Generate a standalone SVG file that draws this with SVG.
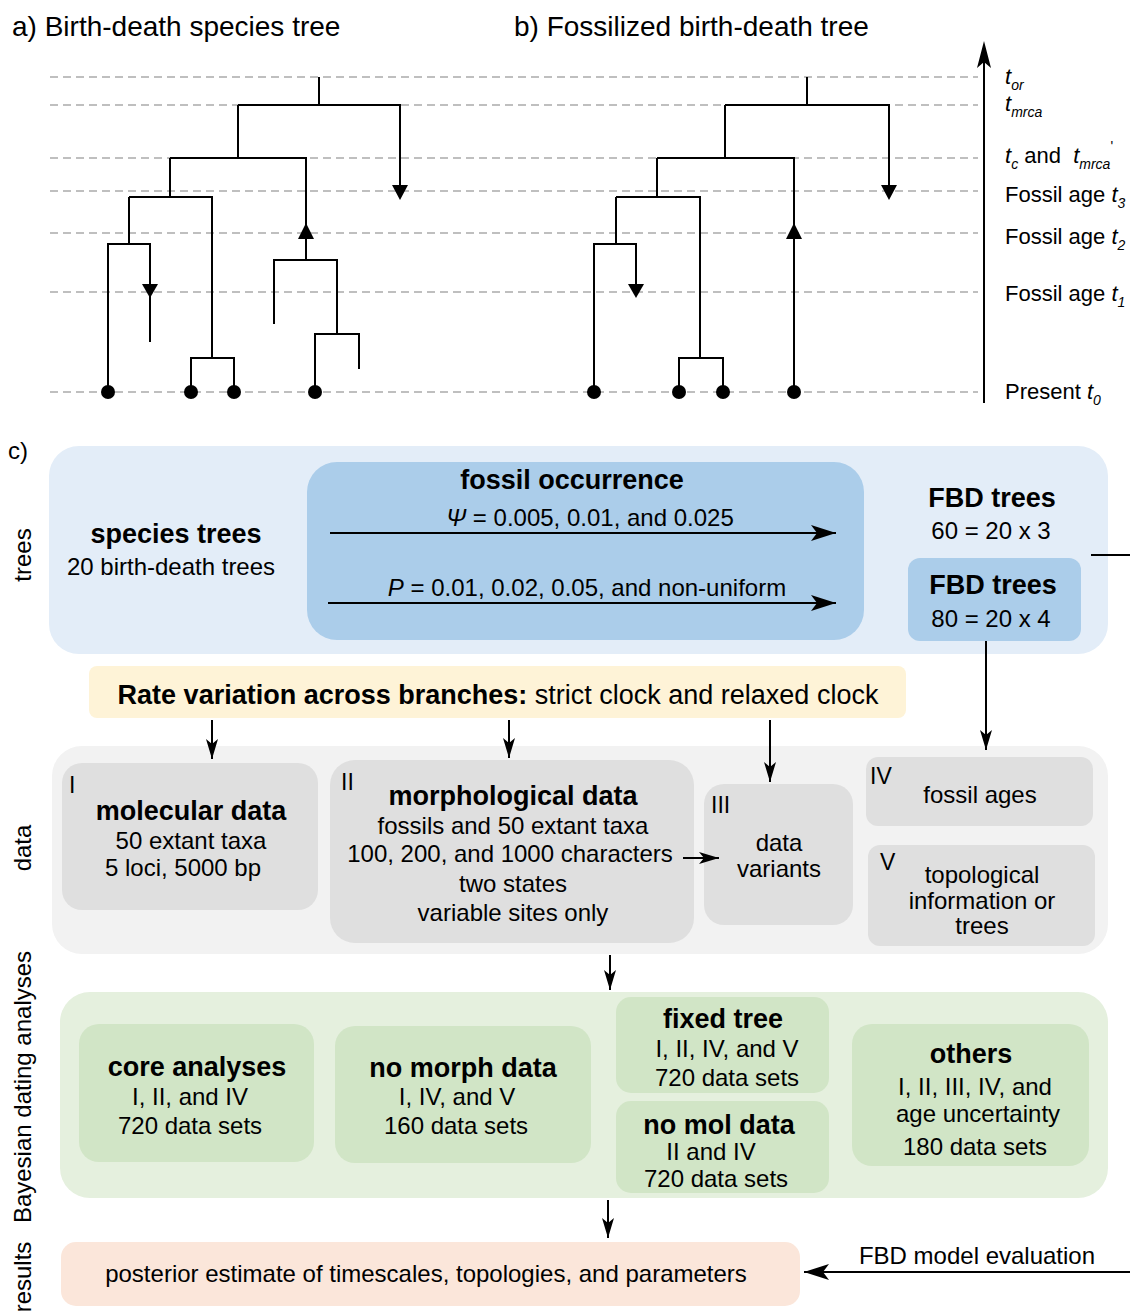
<svg xmlns="http://www.w3.org/2000/svg" width="1130" height="1311" viewBox="0 0 1130 1311">
<style>
text{font-family:"Liberation Sans",Arial,sans-serif;fill:#000}
.ttl{font-size:28px}
.lb{font-size:22px}
.sub{font-size:14px;font-style:italic}
.it{font-style:italic}
.b{font-size:27px;font-weight:bold;text-anchor:middle}
.t{font-size:24px;text-anchor:middle}
.n{font-size:23px}
.rot{font-size:24px;text-anchor:middle}
.dash{stroke:#ababab;stroke-width:1.5;stroke-dasharray:8 5;fill:none}
.br{stroke:#000;stroke-width:2;fill:none}
.con{stroke:#000;stroke-width:2;fill:none}
</style>
<defs>
<marker id="ahL" viewBox="0 0 25 16" refX="25" refY="8" markerWidth="25" markerHeight="16" markerUnits="userSpaceOnUse" orient="auto"><path d="M0,0 L25,8 L0,16 L6,8 Z" fill="#000"/></marker>
<marker id="ah" viewBox="0 0 20 12" refX="20" refY="6" markerWidth="20" markerHeight="12" markerUnits="userSpaceOnUse" orient="auto"><path d="M0,0 L20,6 L0,12 L5,6 Z" fill="#000"/></marker>
</defs>

<!-- titles -->
<text class="ttl" x="12" y="36">a) Birth-death species tree</text>
<text class="ttl" x="514" y="36">b) Fossilized birth-death tree</text>

<!-- dashed time lines -->
<g id="timelines">
<path class="dash" d="M50,77H978M50,105H978M50,158H978M50,191H978M50,233H978M50,292H978M50,392H978"/>
</g>

<!-- tree a -->
<g id="tree-a">
<path class="br" d="M319,77V105M238,105H400V186M238,105V158M170,158H306V260M274,324V260H337V334M315,392V334H359V369M170,158V197M129,197H212V358M191,392V358H234V392M129,197V244M108,392V244H150V342"/>
<polygon points="392,185 408,185 400,200"/>
<polygon points="298,239 314,239 306,223"/>
<polygon points="142,284 158,284 150,298"/>
<circle cx="108" cy="392" r="7"/><circle cx="191" cy="392" r="7"/><circle cx="234" cy="392" r="7"/><circle cx="315" cy="392" r="7"/>
</g>

<!-- tree b -->
<g id="tree-b">
<path class="br" d="M807,77V105M725,105H889V186M725,105V158M657,158H794V392M657,158V197M616,197H700V358M679,392V358H723V392M616,197V244M594,392V244H636V286"/>
<polygon points="881,185 897,185 889,200"/>
<polygon points="786,239 802,239 794,223"/>
<polygon points="628,284 644,284 636,298"/>
<circle cx="594" cy="392" r="7"/><circle cx="679" cy="392" r="7"/><circle cx="723" cy="392" r="7"/><circle cx="794" cy="392" r="7"/>
</g>

<!-- time axis -->
<g id="axis">
<path class="br" d="M984,403V50"/>
<path d="M984,41 L977,68 L984,62 L991,68 Z" fill="#000"/>
<text class="lb" x="1005" y="84"><tspan class="it">t</tspan><tspan class="sub" dy="6">or</tspan></text>
<text class="lb" x="1005" y="111"><tspan class="it">t</tspan><tspan class="sub" dy="6">mrca</tspan></text>
<text class="lb" x="1005" y="163"><tspan class="it">t</tspan><tspan class="sub" dy="6">c</tspan><tspan dy="-6"> and&#160; </tspan><tspan class="it">t</tspan><tspan class="sub" dy="6">mrca</tspan><tspan font-size="14" dy="-18">'</tspan></text>
<text class="lb" x="1005" y="202">Fossil age <tspan class="it">t</tspan><tspan class="sub" dy="6">3</tspan></text>
<text class="lb" x="1005" y="244">Fossil age <tspan class="it">t</tspan><tspan class="sub" dy="6">2</tspan></text>
<text class="lb" x="1005" y="301">Fossil age <tspan class="it">t</tspan><tspan class="sub" dy="6">1</tspan></text>
<text class="lb" x="1005" y="399">Present <tspan class="it">t</tspan><tspan class="sub" dy="6">0</tspan></text>
</g>

<text x="8" y="459" font-size="24">c)</text>

<!-- row labels -->
<g id="row-labels">
<text class="rot" transform="translate(31,555) rotate(-90)">trees</text>
<text class="rot" transform="translate(31,848) rotate(-90)">data</text>
<text class="rot" transform="translate(31,1087) rotate(-90)">Bayesian dating analyses</text>
<text class="rot" transform="translate(31,1277) rotate(-90)">results</text>
</g>

<!-- trees band -->
<g id="trees-band">
<rect x="49" y="446" width="1059" height="208" rx="30" fill="#e3edf8"/>
</g>
<g id="species-trees">
<text class="b" x="176" y="543">species trees</text>
<text class="t" x="171" y="575">20 birth-death trees</text>
</g>
<g id="fossil-occurrence">
<rect x="307" y="462" width="557" height="178" rx="30" fill="#abcdea"/>
<text class="b" x="572" y="489">fossil occurrence</text>
<text class="t" x="590" y="526"><tspan class="it">Ψ</tspan> = 0.005, 0.01, and 0.025</text>
<text class="t" x="587" y="596"><tspan class="it">P</tspan> = 0.01, 0.02, 0.05, and non-uniform</text>
</g>
<g id="fbd-60">
<text class="b" x="992" y="507">FBD trees</text>
<text class="t" x="991" y="539">60 = 20 x 3</text>
</g>
<g id="fbd-80">
<rect x="908" y="558" width="173" height="83" rx="12" fill="#abcdea"/>
<text class="b" x="993" y="594">FBD trees</text>
<text class="t" x="991" y="627">80 = 20 x 4</text>
</g>

<!-- rate variation -->
<g id="rate-variation">
<rect x="89" y="666" width="817" height="52" rx="8" fill="#fef3d7"/>
<text x="498" y="704" font-size="27" text-anchor="middle"><tspan font-weight="bold">Rate variation across branches:</tspan> strict clock and relaxed clock</text>
</g>

<!-- data band -->
<g id="data-band">
<rect x="52" y="746" width="1056" height="208" rx="30" fill="#f2f2f2"/>
</g>
<g id="molecular">
<rect x="62" y="763" width="256" height="147" rx="20" fill="#dfdfdf"/>
<text class="n" x="69" y="793">I</text>
<text class="b" x="191" y="820">molecular data</text>
<text class="t" x="191" y="849">50 extant taxa</text>
<text class="t" x="183" y="876">5 loci, 5000 bp</text>
</g>
<g id="morphological">
<rect x="330" y="760" width="364" height="183" rx="25" fill="#dfdfdf"/>
<text class="n" x="341" y="790">II</text>
<text class="b" x="513" y="805">morphological data</text>
<text class="t" x="513" y="834">fossils and 50 extant taxa</text>
<text class="t" x="510" y="862">100, 200, and 1000 characters</text>
<text class="t" x="513" y="892">two states</text>
<text class="t" x="513" y="921">variable sites only</text>
</g>
<g id="variants">
<rect x="704" y="784" width="149" height="141" rx="20" fill="#dfdfdf"/>
<text class="n" x="711" y="813">III</text>
<text class="t" x="779" y="851">data</text>
<text class="t" x="779" y="877">variants</text>
</g>
<g id="fossil-ages">
<rect x="866" y="757" width="227" height="69" rx="12" fill="#dfdfdf"/>
<text class="n" x="870" y="784">IV</text>
<text class="t" x="980" y="803">fossil ages</text>
</g>
<g id="topology">
<rect x="868" y="845" width="227" height="101" rx="12" fill="#dfdfdf"/>
<text class="n" x="880" y="870">V</text>
<text class="t" x="982" y="883">topological</text>
<text class="t" x="982" y="909">information or</text>
<text class="t" x="982" y="934">trees</text>
</g>

<!-- bayesian band -->
<g id="bayes-band">
<rect x="60" y="992" width="1048" height="206" rx="30" fill="#e5f0de"/>
</g>
<g id="core">
<rect x="79" y="1024" width="235" height="138" rx="20" fill="#d1e5c6"/>
<text class="b" x="197" y="1076">core analyses</text>
<text class="t" x="190" y="1105">I, II, and IV</text>
<text class="t" x="190" y="1134">720 data sets</text>
</g>
<g id="no-morph">
<rect x="335" y="1026" width="256" height="137" rx="20" fill="#d1e5c6"/>
<text class="b" x="463" y="1077">no morph data</text>
<text class="t" x="457" y="1105">I, IV, and V</text>
<text class="t" x="456" y="1134">160 data sets</text>
</g>
<g id="fixed-tree">
<rect x="616" y="997" width="213" height="96" rx="15" fill="#d1e5c6"/>
<text class="b" x="723" y="1028">fixed tree</text>
<text class="t" x="727" y="1057">I, II, IV, and V</text>
<text class="t" x="727" y="1086">720 data sets</text>
</g>
<g id="no-mol">
<rect x="616" y="1101" width="213" height="92" rx="15" fill="#d1e5c6"/>
<text class="b" x="719" y="1134">no mol data</text>
<text class="t" x="711" y="1160">II and IV</text>
<text class="t" x="716" y="1187">720 data sets</text>
</g>
<g id="others">
<rect x="852" y="1024" width="237" height="142" rx="20" fill="#d1e5c6"/>
<text class="b" x="971" y="1063">others</text>
<text class="t" x="975" y="1095">I, II, III, IV, and</text>
<text class="t" x="978" y="1122">age uncertainty</text>
<text class="t" x="975" y="1155">180 data sets</text>
</g>

<!-- results -->
<g id="results">
<rect x="61" y="1242" width="739" height="64" rx="15" fill="#fbe6da"/>
<text class="t" x="426" y="1282">posterior estimate of timescales, topologies, and parameters</text>
</g>
<g id="fbd-eval">
<text class="t" x="977" y="1264">FBD model evaluation</text>
</g>

<!-- connectors -->
<g id="connectors">
<path class="con" d="M330,533H836" marker-end="url(#ahL)"/>
<path class="con" d="M328,603H836" marker-end="url(#ahL)"/>
<path class="con" d="M986,641V750" marker-end="url(#ah)"/>
<path class="con" d="M212,720V759" marker-end="url(#ah)"/>
<path class="con" d="M509,720V758" marker-end="url(#ah)"/>
<path class="con" d="M770,720V782" marker-end="url(#ah)"/>
<path class="con" d="M683,858H719" marker-end="url(#ah)"/>
<path class="con" d="M610,955V990" marker-end="url(#ah)"/>
<path class="con" d="M608,1200V1238" marker-end="url(#ah)"/>
<path class="con" d="M1091,555H1130"/>
<path class="con" d="M1130,1272H804" marker-end="url(#ahL)"/>
</g>
</svg>
